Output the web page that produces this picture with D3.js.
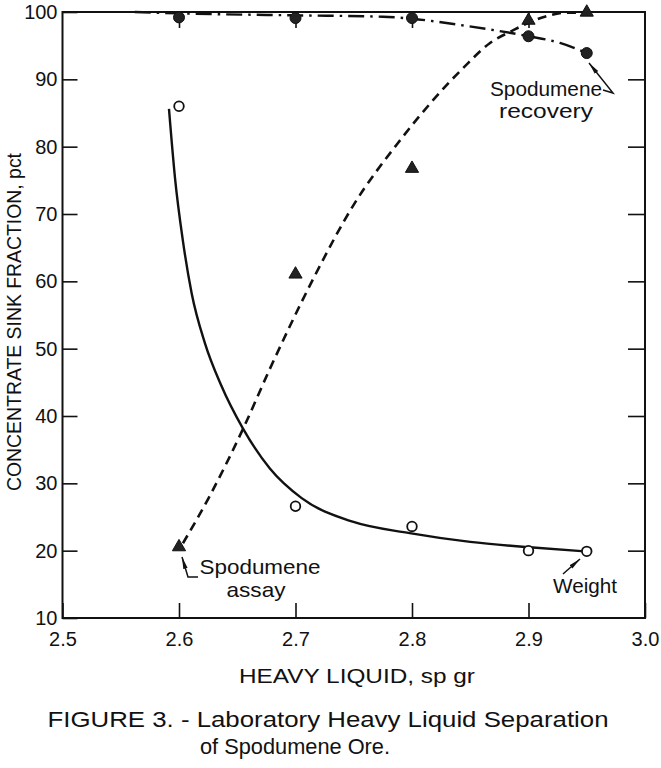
<!DOCTYPE html>
<html><head><meta charset="utf-8">
<script src="https://cdn.jsdelivr.net/npm/d3@7"></script>
<style>
html,body{margin:0;padding:0;background:#fff;}
svg{display:block;}
text{font-family:"Liberation Sans",Arial,sans-serif;fill:#111;}
</style></head>
<body>
<svg id="chart" width="661" height="768"></svg>
<script>
// ---- data ----
const sg = [2.6, 2.7, 2.8, 2.9, 2.95];
const weightPts = [86.0, 26.6, 23.6, 20.0, 19.9];
const assayPts = [20.4, 60.9, 76.6, 98.6, 99.8];
const recoveryPts = [99.2, 99.1, 99.1, 96.4, 93.9];

// fitted (hand-drawn) curves
const weightCurveX = [2.5914, 2.5966, 2.6032, 2.6109, 2.6223, 2.6361, 2.6547, 2.678, 2.7053, 2.749, 2.798, 2.85, 2.901, 2.948];
const weightCurveY = [85.6, 75.3, 66.2, 58.2, 50.8, 44.6, 38.2, 32.2, 27.8, 24.3, 22.6, 21.3, 20.5, 19.9];
const assayCurveX = [2.6034, 2.6266, 2.655, 2.678, 2.715, 2.749, 2.79, 2.844, 2.867, 2.887, 2.9, 2.914, 2.933, 2.945];
const assayCurveY = [21.1, 28.2, 38.1, 47.0, 60.3, 71.1, 81.0, 91.7, 95.4, 97.3, 98.4, 99.3, 99.9, 99.9];
const recoveryCurveX = [2.562, 2.6, 2.7, 2.775, 2.8, 2.844, 2.9, 2.927, 2.95];
const recoveryCurveY = [100.0, 99.8, 99.5, 99.3, 99.0, 98.0, 96.4, 95.4, 93.9];

const xTicks = [2.5, 2.6, 2.7, 2.8, 2.9, 3.0];
const xTickLabels = ["2.5", "2.6", "2.7", "2.8", "2.9", "3.0"];
const yTicks = [10, 20, 30, 40, 50, 60, 70, 80, 90, 100];
const yTickLabels = ["10", "20", "30", "40", "50", "60", "70", "80", "90", "100"];

const xTitle = "HEAVY LIQUID, sp gr";
const yTitle = "CONCENTRATE SINK FRACTION, pct";
const caption1 = "FIGURE 3. - Laboratory Heavy Liquid Separation";
const caption2 = "of Spodumene Ore.";

// ---- drawing ----
const svg = d3.select("#chart");
const x = d3.scaleLinear().domain([2.5, 3.0]).range([62.5, 645]);
const y = d3.scaleLinear().domain([10, 100]).range([618, 12]);

const defs = svg.append("defs");
defs.append("marker").attr("id", "arr").attr("viewBox", "0 0 12 6")
  .attr("refX", 12).attr("refY", 3).attr("markerWidth", 12).attr("markerHeight", 6)
  .attr("markerUnits", "userSpaceOnUse").attr("orient", "auto")
  .append("path").attr("d", "M0,0.8 L12,3 L0,5.2 Z").attr("fill", "#111");

// frame
svg.append("rect").attr("x", x(2.5)).attr("y", y(100))
  .attr("width", x(3.0) - x(2.5)).attr("height", y(10) - y(100))
  .attr("fill", "none").attr("stroke", "#111").attr("stroke-width", 2);

function styleAxis(g) {
  g.select(".domain").remove();
  g.selectAll(".tick line").attr("stroke", "#111").attr("stroke-width", 1.6);
  g.selectAll(".tick text").attr("fill", "#111").style("font-size", "20px")
    .style("font-family", '"Liberation Sans", Arial, sans-serif');
}

// left axis
svg.append("g").attr("transform", `translate(${x(2.5)},0)`)
  .call(d3.axisLeft(y).tickValues(yTicks).tickSize(-15).tickPadding(5)
    .tickFormat((d, i) => yTickLabels[i]))
  .call(styleAxis);
// right axis ticks
svg.append("g").attr("transform", `translate(${x(3.0)},0)`)
  .call(d3.axisRight(y).tickValues(yTicks.slice(1, -1)).tickSize(-17).tickFormat(""))
  .call(styleAxis);
// bottom axis
svg.append("g").attr("transform", `translate(0,${y(10)})`)
  .call(d3.axisBottom(x).tickValues(xTicks).tickSize(-15).tickPadding(14)
    .tickFormat((d, i) => xTickLabels[i]))
  .call(styleAxis);
// top axis ticks
svg.append("g").attr("transform", `translate(0,${y(100)})`)
  .call(d3.axisTop(x).tickValues(xTicks.slice(1, -1)).tickSize(-16).tickFormat(""))
  .call(styleAxis);

// curves
const line = d3.line().x(d => x(d[0])).y(d => y(d[1])).curve(d3.curveMonotoneX);
svg.append("path").datum(weightCurveX.map((v, i) => [v, weightCurveY[i]]))
  .attr("d", line).attr("fill", "none").attr("stroke", "#111").attr("stroke-width", 2.4);
svg.append("path").datum(assayCurveX.map((v, i) => [v, assayCurveY[i]]))
  .attr("d", line).attr("fill", "none").attr("stroke", "#111").attr("stroke-width", 2.6)
  .attr("stroke-dasharray", "9,6");
svg.append("path").datum(recoveryCurveX.map((v, i) => [v, recoveryCurveY[i]]))
  .attr("d", line).attr("fill", "none").attr("stroke", "#111").attr("stroke-width", 2.4)
  .attr("stroke-dasharray", "16,6,2.5,6");

// markers
svg.append("g").selectAll("circle").data(sg).join("circle")
  .attr("cx", d => x(d)).attr("cy", (d, i) => y(weightPts[i])).attr("r", 4.8)
  .attr("fill", "#fff").attr("stroke", "#111").attr("stroke-width", 1.8);
svg.append("g").selectAll("circle").data(sg).join("circle")
  .attr("cx", d => x(d)).attr("cy", (d, i) => y(recoveryPts[i])).attr("r", 5.5)
  .attr("fill", "#222").attr("stroke", "#111").attr("stroke-width", 1);
const tri = d3.symbol().type(d3.symbolTriangle).size(75);
svg.append("g").selectAll("path").data(sg).join("path")
  .attr("transform", (d, i) => `translate(${x(d)},${y(assayPts[i]) - 1})`)
  .attr("d", tri).attr("fill", "#222").attr("stroke", "#111").attr("stroke-width", 1);

// annotations
function label(txt, cx, by, len, size) {
  svg.append("text").attr("x", cx).attr("y", by).attr("text-anchor", "middle")
    .attr("textLength", len).attr("lengthAdjust", "spacingAndGlyphs")
    .style("font-size", size + "px").text(txt);
}
label("Spodumene", 546, 96, 112, 21);
label("recovery", 546, 118, 94, 21);
svg.append("path").attr("d", "M603,90 L613,93 L589,63").attr("fill", "none")
  .attr("stroke", "#111").attr("stroke-width", 1.5).attr("marker-end", "url(#arr)");

label("Spodumene", 260, 574, 121, 21);
label("assay", 256, 597, 59, 21);
svg.append("path").attr("d", "M198,577 L188,577 L182,557").attr("fill", "none")
  .attr("stroke", "#111").attr("stroke-width", 1.5).attr("marker-end", "url(#arr)");

label("Weight", 585, 593, 64, 21);
svg.append("path").attr("d", "M563,574 L580,559").attr("fill", "none")
  .attr("stroke", "#111").attr("stroke-width", 1.5).attr("marker-end", "url(#arr)");

// titles
label(xTitle, 357, 683, 236, 20);
svg.append("text").attr("transform", "translate(21,322) rotate(-90)")
  .attr("text-anchor", "middle").attr("textLength", 338).attr("lengthAdjust", "spacingAndGlyphs")
  .style("font-size", "21px").text(yTitle);
label(caption1, 328, 727, 561, 22);
label(caption2, 295, 754, 190, 22);
</script>
</body></html>
